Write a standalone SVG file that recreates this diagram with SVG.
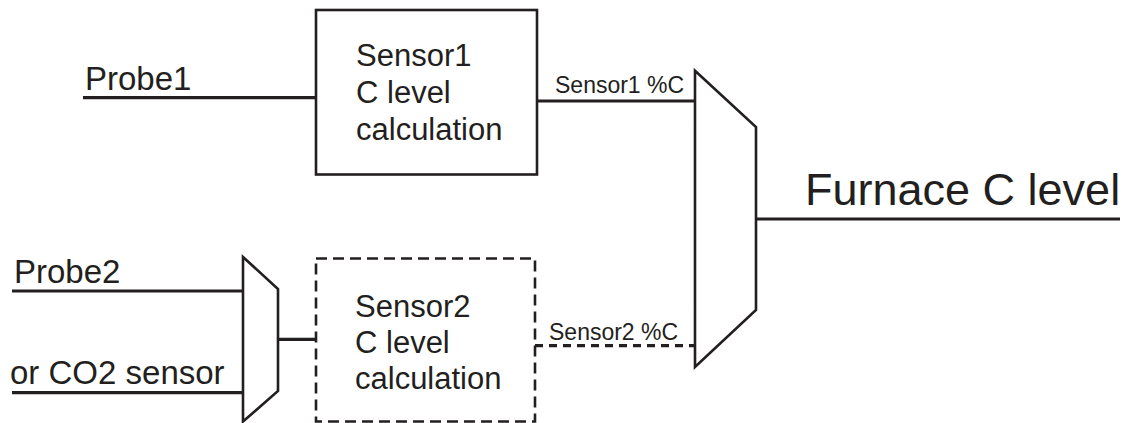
<svg xmlns="http://www.w3.org/2000/svg" width="1126" height="423" viewBox="0 0 1126 423">
<style>
.ln{stroke:#231f20;stroke-width:3.2;fill:none}
.bx{stroke:#231f20;stroke-width:2.6;fill:#fff}
.t{font-family:"Liberation Sans",Arial,sans-serif;fill:#231f20}
</style>
<rect width="1126" height="423" fill="#fff"/>
<g id="connectors">
<line class="ln" x1="83" y1="97.7" x2="316" y2="97.7"/>
<line class="ln" x1="537" y1="101" x2="695" y2="101"/>
<line class="ln" x1="12" y1="291" x2="243" y2="291"/>
<line class="ln" x1="12" y1="392.7" x2="243" y2="392.7"/>
<line class="ln" x1="278" y1="339.3" x2="316" y2="339.3"/>
<line class="ln" x1="535" y1="345.7" x2="695" y2="345.7" stroke-width="4" stroke-dasharray="8 6"/>
<line class="ln" x1="756" y1="219" x2="1120" y2="219"/>
</g>
<g id="probe1"><text class="t" x="85" y="90" font-size="33">Probe1</text></g>
<g id="probe2"><text class="t" x="14" y="283" font-size="33">Probe2</text></g>
<g id="co2"><text class="t" x="10" y="384" font-size="33">or CO2 sensor</text></g>
<g id="sensor1">
<rect class="bx" x="316" y="10" width="221" height="164.5"/>
<text class="t" font-size="31"><tspan x="356" y="66">Sensor1</tspan><tspan x="356" y="103">C level</tspan><tspan x="356" y="140">calculation</tspan></text>
</g>
<g id="sensor2">
<rect class="bx" x="316" y="258.5" width="219" height="163" stroke-dasharray="11 6"/>
<text class="t" font-size="31"><tspan x="355" y="317">Sensor2</tspan><tspan x="355" y="353">C level</tspan><tspan x="355" y="389">calculation</tspan></text>
</g>
<g id="mux2"><polygon class="bx" points="243,257 278,289 278,391 243,421.5"/></g>
<g id="mux1"><polygon class="bx" points="695,70.7 756,127 756,310 695,367"/></g>
<g id="label-s1"><text class="t" x="555" y="92.7" font-size="23">Sensor1 %C</text></g>
<g id="label-s2"><text class="t" x="549" y="340" font-size="23">Sensor2 %C</text></g>
<g id="furnace"><text class="t" x="805" y="205" font-size="45">Furnace C level</text></g>
</svg>
